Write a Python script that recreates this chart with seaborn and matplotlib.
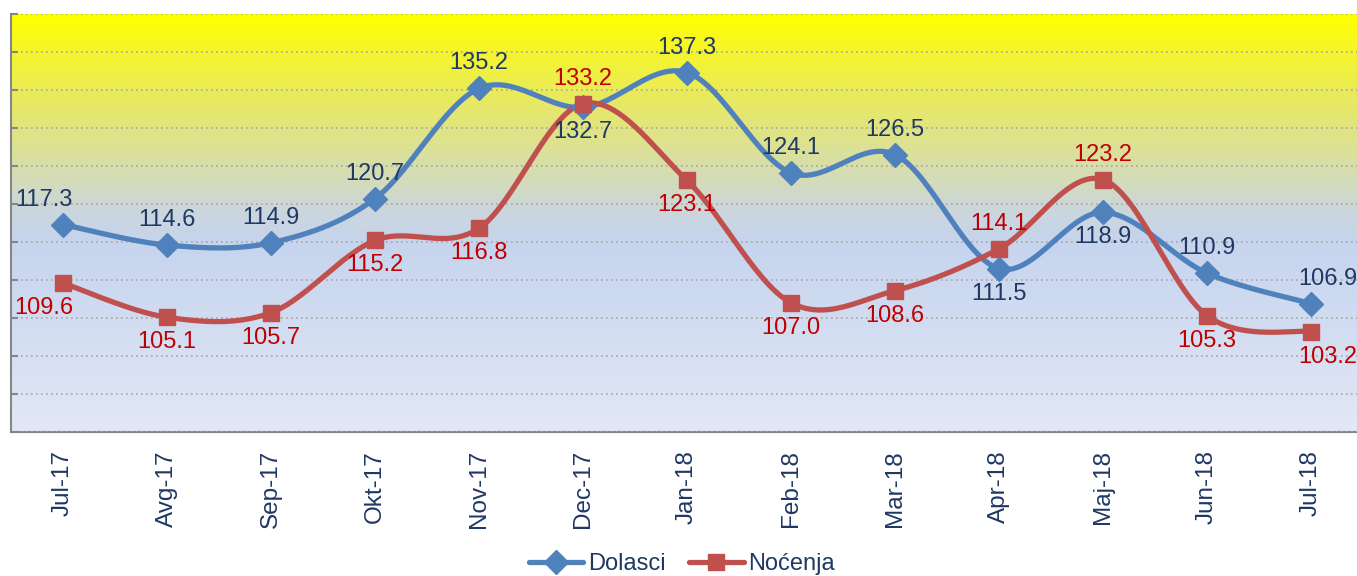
import numpy as np
import pandas as pd
import matplotlib
matplotlib.use("Agg")
import matplotlib.pyplot as plt
from matplotlib.colors import LinearSegmentedColormap
from matplotlib.lines import Line2D
import seaborn as sns

# Data
months = ["Jul-17", "Avg-17", "Sep-17", "Okt-17", "Nov-17", "Dec-17", "Jan-18",
          "Feb-18", "Mar-18", "Apr-18", "Maj-18", "Jun-18", "Jul-18"]
dolasci = [117.3, 114.6, 114.9, 120.7, 135.2, 132.7, 137.3, 124.1, 126.5, 111.5, 118.9, 110.9, 106.9]
nocenja = [109.6, 105.1, 105.7, 115.2, 116.8, 133.2, 123.1, 107.0, 108.6, 114.1, 123.2, 105.3, 103.2]

# label above (+1) or below (-1) the point
dolasci_pos = [1, 1, 1, 1, 1, -1, 1, 1, 1, -1, -1, 1, 1]
nocenja_pos = [-1, -1, -1, -1, -1, 1, -1, -1, -1, 1, 1, -1, -1]

BLUE = "#4F81BD"
RED = "#C0504D"
NAVY = "#1F3864"
DARKRED = "#C00000"

sns.set_style("white")
plt.rcParams["font.family"] = ["Liberation Sans", "DejaVu Sans"]


def smooth(y, n=30):
    # Excel-like smoothed line (Catmull-Rom as cubic Bezier)
    y = np.asarray(y, float)
    x = np.arange(len(y), dtype=float)
    px = np.concatenate([[x[0]], x, [x[-1]]])
    py = np.concatenate([[y[0]], y, [y[-1]]])
    xs, ys = [], []
    t = np.linspace(0, 1, n)
    for i in range(len(y) - 1):
        p0 = np.array([px[i + 1], py[i + 1]])
        p3 = np.array([px[i + 2], py[i + 2]])
        p1 = p0 + (p3 - np.array([px[i], py[i]])) / 6
        p2 = p3 - (np.array([px[i + 3], py[i + 3]]) - p0) / 6
        b = ((1 - t) ** 3)[:, None] * p0 + (3 * (1 - t) ** 2 * t)[:, None] * p1 \
            + (3 * (1 - t) * t ** 2)[:, None] * p2 + (t ** 3)[:, None] * p3
        xs.extend(b[:, 0]); ys.extend(b[:, 1])
    return np.array(xs), np.array(ys)


fig = plt.figure(figsize=(13.57, 5.76), dpi=100)
ax = fig.add_axes([11 / 1357, 1 - 432 / 576, 1352 / 1357, 418 / 576])

ymin, ymax = 90, 145
ax.set_xlim(-0.5, len(months) - 0.5)
ax.set_ylim(ymin, ymax)

# gradient background
cmap = LinearSegmentedColormap.from_list("bg", [
    (0.0, "#E2E8F5"),
    (0.45, "#C6D4EE"),
    (0.53, "#CBD6DC"),
    (0.62, "#D6DDB2"),
    (0.78, "#E6E868"),
    (0.92, "#F6F628"),
    (1.0, "#FFFF00"),
])
grad = np.linspace(0, 1, 256)[:, None]
ax.imshow(grad, aspect="auto", cmap=cmap, origin="lower",
          extent=[-0.5, len(months) - 0.5, ymin, ymax], zorder=0)

# grid
ax.set_yticks(np.arange(ymin, ymax + 0.1, 5))
ax.yaxis.grid(True, color="#A6A6A6", linestyle=(0, (1, 2)), linewidth=1.2, zorder=1)
ax.set_axisbelow(False)
ax.set_yticklabels([])
ax.tick_params(axis="y", direction="in", length=5, width=1.5, color="#868686", left=True)

# smoothed lines
for vals, col in [(dolasci, BLUE), (nocenja, RED)]:
    sx, sy = smooth(vals)
    df = pd.DataFrame({"x": sx, "y": sy})
    sns.lineplot(data=df, x="x", y="y", sort=False, color=col, linewidth=3.8,
                 ax=ax, zorder=3, estimator=None)

idx = np.arange(len(months))
ax.plot(idx, dolasci, linestyle="none", marker="D", markersize=12,
        color=BLUE, zorder=4)
ax.plot(idx, nocenja, linestyle="none", marker="s", markersize=11.5,
        color=RED, zorder=4)

# value labels
fs = 17
for i in idx:
    dx = 0
    if i == 0:
        dx = -14
    elif i == len(months) - 1:
        dx = 12
    ax.annotate(f"{dolasci[i]:.1f}", (i, dolasci[i]), xytext=(dx, 18 * dolasci_pos[i]),
                textcoords="offset points", ha="center", va="center",
                fontsize=fs, color=NAVY, zorder=5)
    ax.annotate(f"{nocenja[i]:.1f}", (i, nocenja[i]), xytext=(dx, 18 * nocenja_pos[i]),
                textcoords="offset points", ha="center", va="center",
                fontsize=fs, color=DARKRED, zorder=5)

# axes
ax.set_xticks(idx)
ax.set_xticklabels(months, rotation=90, fontsize=17.5, color=NAVY)
ax.tick_params(axis="x", which="major", length=0, pad=13)
ax.set_xticks(np.arange(-0.5, len(months), 1), minor=True)
ax.tick_params(axis="x", which="minor", length=6, width=1.5, color="#868686", direction="out")
ax.set_xlabel("")
ax.set_ylabel("")
for s in ["top", "right"]:
    ax.spines[s].set_visible(False)
for s in ["left", "bottom"]:
    ax.spines[s].set_color("#868686")
    ax.spines[s].set_linewidth(1.5)

handles = [
    Line2D([], [], color=BLUE, linewidth=3.8, marker="D", markersize=12),
    Line2D([], [], color=RED, linewidth=3.8, marker="s", markersize=11.5),
]
fig.legend(handles, ["Dolasci", "Noćenja"], loc="center",
           bbox_to_anchor=(682 / 1357, 1 - 564 / 576), ncol=2, frameon=False,
           fontsize=17, handlelength=2.3, handletextpad=0.2, columnspacing=1.0,
           labelcolor=NAVY)

fig.savefig("out.png", dpi=100)
